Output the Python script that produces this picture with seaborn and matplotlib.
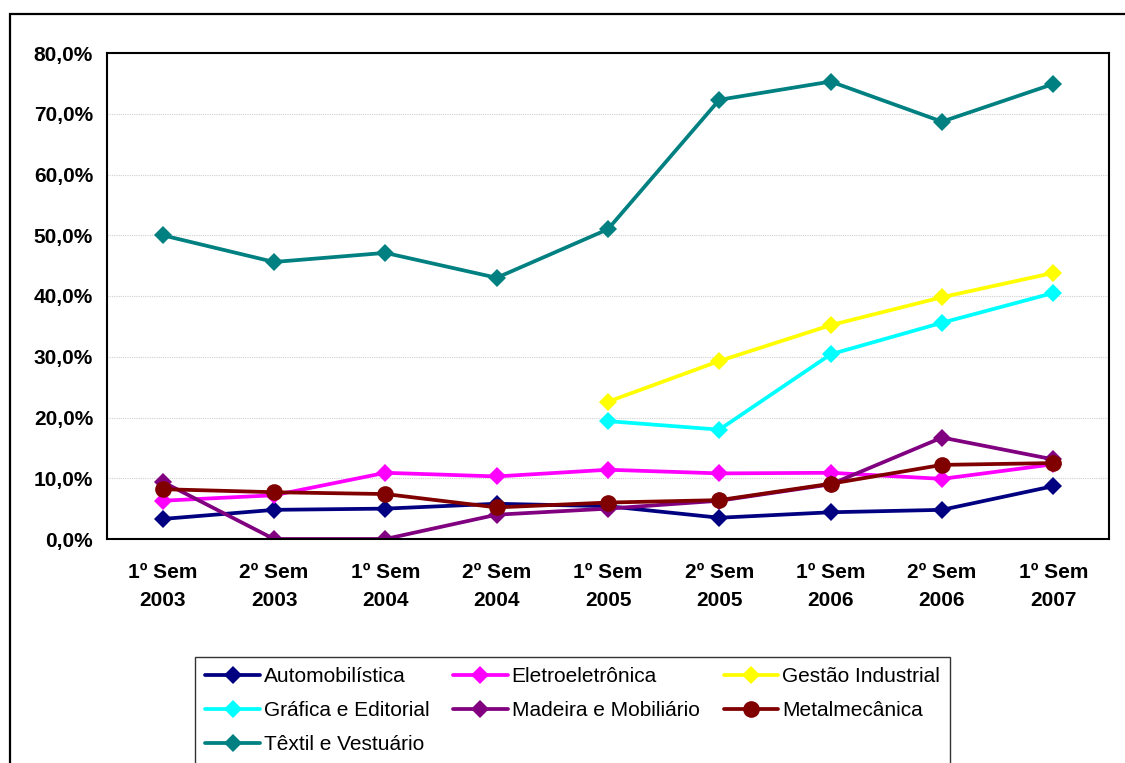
import numpy as np
import pandas as pd
import seaborn as sns
import matplotlib
matplotlib.use('Agg')
import matplotlib.pyplot as plt
from matplotlib.patches import Rectangle
from matplotlib.lines import Line2D
from matplotlib.ticker import FuncFormatter, MultipleLocator

periods = ['1º Sem\n2003', '2º Sem\n2003', '1º Sem\n2004', '2º Sem\n2004', '1º Sem\n2005',
           '2º Sem\n2005', '1º Sem\n2006', '2º Sem\n2006', '1º Sem\n2007']

auto = [3.3, 4.8, 5.0, 5.8, 5.4, 3.5, 4.4, 4.8, 8.7]
eletro = [6.3, 7.2, 10.9, 10.3, 11.4, 10.8, 10.9, 9.9, 12.3]
gestao = [np.nan, np.nan, np.nan, np.nan, 22.6, 29.3, 35.2, 39.8, 43.8]
grafica = [np.nan, np.nan, np.nan, np.nan, 19.4, 18.0, 30.4, 35.6, 40.5]
madeira = [9.4, 0.0, 0.0, 4.0, 5.0, 6.3, 9.0, 16.7, 13.1]
metal = [8.2, 7.7, 7.4, 5.2, 6.0, 6.4, 9.1, 12.2, 12.5]
textil = [50.0, 45.6, 47.1, 43.0, 51.0, 72.3, 75.3, 68.7, 74.9]

series = {
    'Automobilística': auto,
    'Eletroeletrônica': eletro,
    'Gestão Industrial': gestao,
    'Gráfica e Editorial': grafica,
    'Madeira e Mobiliário': madeira,
    'Metalmecânica': metal,
    'Têxtil e Vestuário': textil,
}
colors = {
    'Automobilística': '#000080',
    'Eletroeletrônica': '#FF00FF',
    'Gestão Industrial': '#FFFF00',
    'Gráfica e Editorial': '#00FFFF',
    'Madeira e Mobiliário': '#800080',
    'Metalmecânica': '#800000',
    'Têxtil e Vestuário': '#008080',
}
markers = {k: 'D' for k in series}
markers['Metalmecânica'] = 'o'

sns.set_theme(style='white')
plt.rcParams['font.family'] = ['Liberation Sans', 'DejaVu Sans']
plt.rcParams['text.color'] = 'black'
plt.rcParams['xtick.color'] = 'black'
plt.rcParams['ytick.color'] = 'black'

fig = plt.figure(figsize=(11.25, 7.63), dpi=100)
ax = fig.add_axes([107 / 1125, 1 - 539 / 763, (1109 - 107) / 1125, (539 - 53) / 763])

# outer chart frame
fig.patches.append(Rectangle((10 / 1125, -0.1), 1.2, 1 - 14 / 763 + 0.1,
                             transform=fig.transFigure, fill=False,
                             edgecolor='black', linewidth=1.6, zorder=0))

x = np.arange(len(periods))
handles = {}
for name, vals in series.items():
    y = np.array(vals, dtype=float)
    ok = ~np.isnan(y)
    ms = 12 if markers[name] == 'o' else 9
    sns.lineplot(x=x[ok], y=y[ok], ax=ax, color=colors[name], linewidth=2.7,
                 marker=markers[name], markersize=ms, markeredgewidth=0,
                 label=name, legend=False)
    handles[name] = Line2D([], [], color=colors[name], linewidth=2.7,
                           marker=markers[name], markersize=ms, markeredgewidth=0)

ax.set_xlim(-0.5, len(periods) - 0.5)
ax.set_ylim(0, 80)
ax.yaxis.set_major_locator(MultipleLocator(10))
ax.yaxis.set_major_formatter(FuncFormatter(lambda v, p: f'{v:.1f}%'.replace('.', ',')))
ax.set_xticks(x)
ax.set_xticklabels(periods, fontweight='bold', fontsize=15, linespacing=1.6)
ax.set_xticks(np.arange(-0.5, len(periods)), minor=True)
ax.tick_params(axis='x', which='major', length=0, pad=17)
ax.tick_params(axis='x', which='minor', length=5, width=1.2, color='black', direction='out')
ax.tick_params(axis='y', length=5, width=1.2, color='black', direction='out', pad=5,
               labelsize=15)
for t in ax.get_yticklabels():
    t.set_fontweight('bold')
ax.yaxis.grid(True, color='#d0d0d0', linewidth=0.8, linestyle=(0, (1, 1)))
ax.xaxis.grid(False)
ax.set_axisbelow(True)
for s in ax.spines.values():
    s.set_visible(True)
    s.set_color('black')
    s.set_linewidth(1.5)
ax.set_xlabel('')
ax.set_ylabel('')

order = ['Automobilística', 'Gráfica e Editorial', 'Têxtil e Vestuário',
         'Eletroeletrônica', 'Madeira e Mobiliário',
         'Gestão Industrial', 'Metalmecânica']
leg = fig.legend([handles[k] for k in order], order, ncol=3,
                 loc='upper left', bbox_to_anchor=(195 / 1125, 1 - 657 / 763),
                 frameon=True, fancybox=False, fontsize=15, handlelength=2.6,
                 handletextpad=0.2, columnspacing=1.15, labelspacing=0.72,
                 borderpad=0.5, borderaxespad=0)
leg.get_frame().set_edgecolor('black')
leg.get_frame().set_linewidth(1.0)

fig.savefig('out.png', dpi=100)
